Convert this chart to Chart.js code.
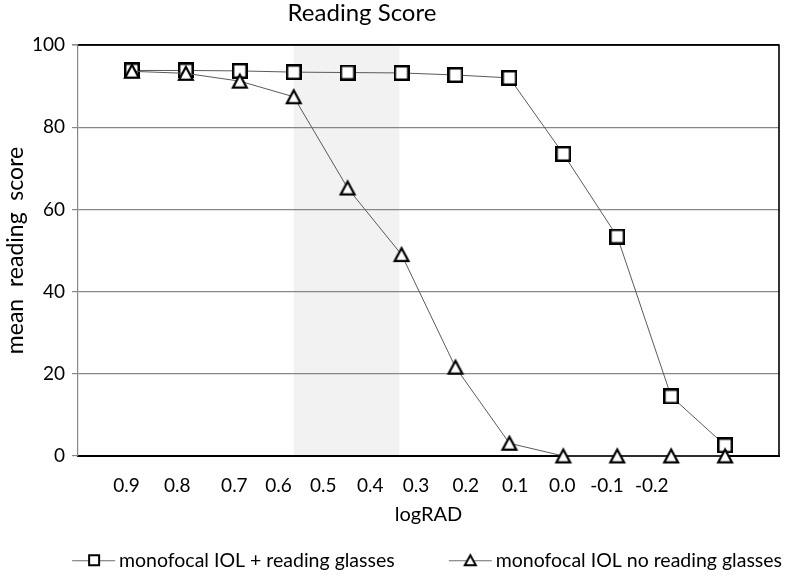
<!DOCTYPE html>
<html>
<head>
<meta charset="utf-8">
<title>Reading Score</title>
<script src="https://cdn.jsdelivr.net/npm/chart.js@4.4.1/dist/chart.umd.min.js"></script>
<style>
  html, body { margin: 0; padding: 0; background: #fff; }
  #wrap { width: 788px; height: 577px; }
</style>
</head>
<body>
<div id="wrap"><canvas id="readingChart" width="788" height="577"></canvas></div>
<script>
// ===== DADOS =====
const chartTitle = 'Reading Score';
const seriesNames = ['monofocal IOL + reading glasses', 'monofocal IOL no reading glasses'];
const xIndex = [1, 2, 3, 4, 5, 6, 7, 8, 9, 10, 11, 12];
const glassesScores = [93.8, 93.8, 93.7, 93.4, 93.3, 93.2, 92.7, 92.0, 73.5, 53.4, 14.5, 2.6];
const noGlassesScores = [93.6, 93.1, 91.2, 87.4, 65.2, 49.0, 21.6, 3.1, 0, 0, 0, 0];
const tickLabels = ['0.9', '0.8', '0.7', '0.6', '0.5', '0.4', '0.3', '0.2', '0.1', '0.0', '-0.1', '-0.2'];
const tickSpots = [0.90, 1.84, 2.90, 3.72, 4.55, 5.42, 6.27, 7.19, 8.11, 8.98, 9.81, 10.64];
const shadeSpan = [4.0, 5.96];

// ===== MARCADORES =====
function makeSquare(size, lw) {
    const c = document.createElement('canvas');
    c.width = size; c.height = size;
    const g = c.getContext('2d');
    g.fillStyle = '#fff';
    g.strokeStyle = '#000';
    g.lineWidth = lw;
    g.beginPath();
    g.rect(lw / 2, lw / 2, size - lw, size - lw);
    g.fill();
    g.stroke();
    return c;
}

function makeTriangle(w, h, lw) {
    const c = document.createElement('canvas');
    c.width = w + 6; c.height = h + 6;
    const g = c.getContext('2d');
    const cx = c.width / 2, cy = c.height / 2;
    g.fillStyle = '#fff';
    g.strokeStyle = '#000';
    g.lineWidth = lw;
    g.lineJoin = 'miter';
    g.beginPath();
    g.moveTo(cx, cy - h / 2 + lw / 2);
    g.lineTo(cx + w / 2 - lw / 2, cy + h / 2 - lw / 2);
    g.lineTo(cx - w / 2 + lw / 2, cy + h / 2 - lw / 2);
    g.closePath();
    g.fill();
    g.stroke();
    return c;
}

// ícone da legenda: linha com o marcador, encostada no texto
// (caixa de 87.25px, o canvas sobra 7px de cada lado)
function makeLegendIcon(marker) {
    const c = document.createElement('canvas');
    c.width = 101; c.height = 20;
    const g = c.getContext('2d');
    g.strokeStyle = '#6b6b6b';
    g.lineWidth = 1;
    g.beginPath();
    g.moveTo(57, 10.5);
    g.lineTo(100, 10.5);
    g.stroke();
    g.drawImage(marker, Math.round(78.5 - marker.width / 2), Math.round(10 - marker.height / 2));
    return c;
}

const squareMark = makeSquare(16, 2.5);
const triangleMark = makeTriangle(16, 15, 2.2);
const squareIcon = makeLegendIcon(makeSquare(12, 2));
const triangleIcon = makeLegendIcon(makeTriangle(13, 12, 2));

// ===== PLUGINS =====
const shadePlugin = {
    id: 'shade',
    beforeDraw(chart) {
        const { ctx, chartArea, scales } = chart;
        const x0 = scales.x.getPixelForValue(shadeSpan[0]);
        const x1 = scales.x.getPixelForValue(shadeSpan[1]);
        ctx.save();
        ctx.fillStyle = '#f2f2f2';
        ctx.fillRect(x0, chartArea.top, x1 - x0, chartArea.bottom - chartArea.top);
        ctx.restore();
    }
};

const framePlugin = {
    id: 'frame',
    beforeDatasetsDraw(chart) {
        const { ctx, chartArea } = chart;
        ctx.save();
        ctx.strokeStyle = '#000';
        ctx.lineWidth = 1.6;
        ctx.beginPath();
        ctx.moveTo(chartArea.left, chartArea.top);
        ctx.lineTo(chartArea.right, chartArea.top);
        ctx.lineTo(chartArea.right, chartArea.bottom);
        ctx.stroke();
        ctx.restore();
    }
};

// título desenhado à mão (no original fica deslocado para a esquerda)
const titlePlugin = {
    id: 'leftTitle',
    afterDraw(chart) {
        const { ctx } = chart;
        ctx.save();
        ctx.font = '24px Lato';
        ctx.fillStyle = '#000';
        ctx.textAlign = 'center';
        ctx.textBaseline = 'middle';
        ctx.fillText(chartTitle, 362, 13);
        ctx.restore();
    }
};

// ===== GRÁFICO =====
Chart.defaults.font.family = 'Lato';
Chart.defaults.color = '#000';

const toPoints = values => xIndex.map((x, i) => ({ x: x, y: values[i] }));

new Chart(document.getElementById('readingChart'), {
    type: 'line',
    data: {
        datasets: [
            {
                label: seriesNames[0],
                data: toPoints(glassesScores),
                borderColor: '#5a5a5a',
                borderWidth: 1,
                pointStyle: squareMark,
                pointRadius: 8,
                order: 2,
                clip: false
            },
            {
                label: seriesNames[1],
                data: toPoints(noGlassesScores),
                borderColor: '#5a5a5a',
                borderWidth: 1,
                pointStyle: triangleMark,
                pointRadius: 8,
                order: 1,
                clip: false
            }
        ]
    },
    options: {
        responsive: false,
        animation: false,
        layout: { padding: { left: 16, right: 0, top: 45, bottom: -3 } },
        scales: {
            x: {
                type: 'linear',
                min: 0,
                max: 13,
                afterBuildTicks: scale => {
                    scale.ticks = tickSpots.map(v => ({ value: v }));
                },
                afterFit: scale => { scale.height = 90.5; },
                grid: { display: false, drawTicks: false },
                border: { color: '#000', width: 2 },
                ticks: {
                    autoSkip: false,
                    maxRotation: 0,
                    padding: 18.6,
                    font: { size: 19 },
                    callback: (value, index) => tickLabels[index]
                },
                title: {
                    display: true,
                    text: 'logRAD',
                    font: { size: 20 },
                    padding: { top: 0, bottom: 19.5 }
                }
            },
            y: {
                min: 0,
                max: 100,
                afterFit: scale => { scale.width = 62; },
                grid: {
                    color: c => c.tick.value === 0 ? 'rgba(0,0,0,0)' : (c.tick.value === 100 ? '#000' : '#878787'),
                    lineWidth: c => c.tick.value === 100 ? 1.6 : 1.2,
                    tickColor: '#878787',
                    tickLength: 6
                },
                border: { color: '#878787', width: 1.2 },
                ticks: {
                    stepSize: 20,
                    padding: 7,
                    font: { size: 19 }
                },
                title: {
                    display: true,
                    text: 'mean  reading  score',
                    font: { size: 23 },
                    padding: { top: -13.8, bottom: 0 }
                }
            },
            // eixo vazio só para deixar a margem direita
            yRight: {
                position: 'right',
                display: true,
                afterFit: scale => { scale.width = 5; },
                grid: { display: false, drawTicks: false },
                border: { display: false },
                ticks: { display: false }
            }
        },
        plugins: {
            title: { display: false },
            legend: {
                position: 'bottom',
                labels: {
                    usePointStyle: true,
                    pointStyleWidth: 87.25,
                    padding: 4,
                    font: { size: 19.5 },
                    color: '#000',
                    generateLabels: chart => chart.data.datasets.map((ds, i) => ({
                        text: ds.label,
                        pointStyle: i === 0 ? squareIcon : triangleIcon,
                        fillStyle: '#fff',
                        strokeStyle: '#000',
                        lineWidth: 0,
                        hidden: false,
                        datasetIndex: i
                    }))
                }
            },
            tooltip: { enabled: false }
        }
    },
    plugins: [shadePlugin, framePlugin, titlePlugin]
});
</script>
</body>
</html>
